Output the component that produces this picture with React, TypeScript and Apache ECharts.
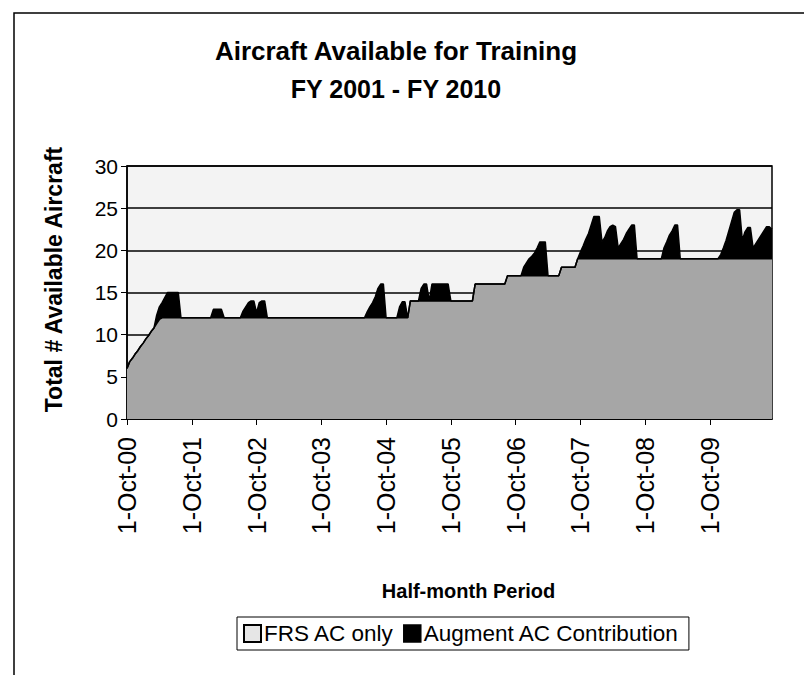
import React, { useEffect, useRef } from "react";
import * as echarts from "echarts";

// Half-month periods: Oct 2000 .. Sep 2010 (24 per fiscal year)
const monthNames = ["Oct", "Nov", "Dec", "Jan", "Feb", "Mar", "Apr", "May", "Jun", "Jul", "Aug", "Sep"];
const fiscalYears = [0, 1, 2, 3, 4, 5, 6, 7, 8, 9];

// FRS AC only (per fiscal year, 24 half-month values each)
const frsFY01 = [6, 6.8, 7.2, 7.7, 8.1, 8.6, 9, 9.5, 9.9, 10.4, 10.8, 11.3, 11.8, 12, 12, 12, 12, 12, 12, 12, 12, 12, 12, 12];
const frsFY02 = [12, 12, 12, 12, 12, 12, 12, 12, 12, 12, 12, 12, 12, 12, 12, 12, 12, 12, 12, 12, 12, 12, 12, 12];
const frsFY03 = [12, 12, 12, 12, 12, 12, 12, 12, 12, 12, 12, 12, 12, 12, 12, 12, 12, 12, 12, 12, 12, 12, 12, 12];
const frsFY04 = [12, 12, 12, 12, 12, 12, 12, 12, 12, 12, 12, 12, 12, 12, 12, 12, 12, 12, 12, 12, 12, 12, 12, 12];
const frsFY05 = [12, 12, 12, 12, 12, 12, 12, 12, 12, 14, 14, 14, 14, 14, 14, 14, 14, 14, 14, 14, 14, 14, 14, 14];
const frsFY06 = [14, 14, 14, 14, 14, 14, 14, 14, 14, 16, 16, 16, 16, 16, 16, 16, 16, 16, 16, 16, 16, 17, 17, 17];
const frsFY07 = [17, 17, 17, 17, 17, 17, 17, 17, 17, 17, 17, 17, 17, 17, 17, 17, 17, 18, 18, 18, 18, 18, 18, 19];
const frsFY08 = [19, 19, 19, 19, 19, 19, 19, 19, 19, 19, 19, 19, 19, 19, 19, 19, 19, 19, 19, 19, 19, 19, 19, 19];
const frsFY09 = [19, 19, 19, 19, 19, 19, 19, 19, 19, 19, 19, 19, 19, 19, 19, 19, 19, 19, 19, 19, 19, 19, 19, 19];
const frsFY10 = [19, 19, 19, 19, 19, 19, 19, 19, 19, 19, 19, 19, 19, 19, 19, 19, 19, 19, 19, 19, 19, 19, 19, 19];

// Augment AC Contribution (stacked on top of FRS)
const augFY01 = [0, 0, 0, 0, 0, 0, 0, 0, 0, 0, 0, 1, 1.5, 1.8, 2.4, 3, 3, 3, 3, 3, 0, 0, 0, 0];
const augFY02 = [0, 0, 0, 0, 0, 0, 0, 0, 1, 1, 1, 1, 0, 0, 0, 0, 0, 0, 0, 0.8, 1.3, 1.8, 2, 2];
const augFY03 = [0.6, 1.8, 2, 2, 0, 0, 0, 0, 0, 0, 0, 0, 0, 0, 0, 0, 0, 0, 0, 0, 0, 0, 0, 0];
const augFY04 = [0, 0, 0, 0, 0, 0, 0, 0, 0, 0, 0, 0, 0, 0, 0, 0, 0, 0.7, 1.3, 1.8, 2.5, 3.5, 4, 4];
const augFY05 = [0, 0, 0, 0, 0, 1.3, 1.9, 1.9, 0, 0, 0, 0, 0, 1.5, 2, 2, 0, 2, 2, 2, 2, 2, 2, 2];
const augFY06 = [0, 0, 0, 0, 0, 0, 0, 0, 0, 0, 0, 0, 0, 0, 0, 0, 0, 0, 0, 0, 0, 0, 0, 0];
const augFY07 = [0, 0, 0, 1, 1.5, 2, 2.3, 2.7, 3.3, 4, 4, 4, 0, 0, 0, 0, 0, 0, 0, 0, 0, 0, 0, 0];
const augFY08 = [0.8, 1.5, 2.3, 3, 4, 5, 5, 5, 2, 2.5, 3.3, 3.8, 4, 3.8, 1.3, 1.8, 2.3, 3, 3.5, 4, 4, 0, 0, 0];
const augFY09 = [0, 0, 0, 0, 0, 0, 0, 1.3, 2, 2.8, 3.3, 4, 4, 0, 0, 0, 0, 0, 0, 0, 0, 0, 0, 0];
const augFY10 = [0, 0, 0, 0, 0.5, 1.3, 2.2, 3.3, 4.4, 5.5, 5.8, 5.8, 2.2, 3.2, 3.7, 3.7, 1.3, 1.8, 2.3, 2.8, 3.3, 3.8, 3.8, 3.5];

const frsValues = [frsFY01, frsFY02, frsFY03, frsFY04, frsFY05, frsFY06, frsFY07, frsFY08, frsFY09, frsFY10].flat();
const augmentValues = [augFY01, augFY02, augFY03, augFY04, augFY05, augFY06, augFY07, augFY08, augFY09, augFY10].flat();

const yTicks = { min: 0, max: 30, interval: 5 };

function buildCategories(): string[] {
  const out: string[] = [];
  fiscalYears.forEach((fy) => {
    monthNames.forEach((m, mi) => {
      const yr = mi < 3 ? fy : fy + 1;
      const yy = String(yr % 100).padStart(2, "0");
      out.push(`1-${m}-${yy}`);
      out.push(`16-${m}-${yy}`);
    });
  });
  return out;
}
const categories = buildCategories();

const FONT = '"Liberation Sans", Arial, Helvetica, sans-serif';

export default function App() {
  const ref = useRef<HTMLDivElement>(null);
  useEffect(() => {
    if (!ref.current) return;
    const chart = echarts.init(ref.current, undefined, { renderer: "svg" });
    const showEvery = (i: number) => i % 24 === 0;
    chart.setOption({
      animation: false,
      backgroundColor: "#ffffff",
      textStyle: { fontFamily: FONT, color: "#000" },
      title: [
        {
          text: "Aircraft Available for Training",
          left: 391,
          top: 33,
          textAlign: "center",
          textStyle: { fontSize: 26, fontWeight: "bold", color: "#000", fontFamily: FONT },
        },
        {
          text: "FY 2001 - FY 2010",
          left: 391,
          top: 71,
          textAlign: "center",
          textStyle: { fontSize: 25, fontWeight: "bold", color: "#000", fontFamily: FONT },
        },
      ],
      graphic: [
        {
          type: "rect",
          z: -10,
          silent: true,
          shape: { x: 14, y: 13, width: 820, height: 720 },
          style: { fill: "none", stroke: "#000", lineWidth: 1.5 },
        },
      ],
      legend: {
        left: 237,
        top: 617,
        orient: "horizontal",
        icon: "rect",
        itemWidth: 17,
        itemHeight: 17,
        itemGap: 9,
        padding: [5, 10, 5, 6],
        borderColor: "#000",
        borderWidth: 1,
        borderRadius: 0,
        backgroundColor: "#fff",
        textStyle: { fontSize: 22.5, color: "#000", fontFamily: FONT, padding: [0, 0, 0, -2] },
        itemStyle: { borderColor: "#000", borderWidth: 1.5 },
        lineStyle: { opacity: 0, width: 0 },
        data: [
          { name: "FRS AC only", itemStyle: { color: "#e6e6e6", borderColor: "#000", borderWidth: 2 } },
          { name: "Augment AC Contribution", itemStyle: { color: "#000", borderColor: "#000" } },
        ],
      },
      grid: {
        left: 127,
        top: 166,
        width: 645,
        height: 253,
        show: true,
        backgroundColor: "#f3f3f3",
        borderColor: "#000",
        borderWidth: 1.5,
        containLabel: false,
      },
      xAxis: {
        type: "category",
        boundaryGap: false,
        data: categories,
        axisLine: { show: true, lineStyle: { color: "#000", width: 1.5 } },
        axisTick: { show: true, interval: showEvery, length: 6, inside: false, lineStyle: { color: "#000", width: 1 } },
        axisLabel: { interval: showEvery, rotate: 90, fontSize: 25, color: "#000", margin: 18, fontFamily: FONT },
        splitLine: { show: false },
        name: "Half-month Period",
        nameLocation: "middle",
        nameGap: 162,
        nameTextStyle: { fontSize: 20, fontWeight: "bold", color: "#000", fontFamily: FONT, padding: [0, 0, 0, 38] },
      },
      yAxis: {
        type: "value",
        min: yTicks.min,
        max: yTicks.max,
        interval: yTicks.interval,
        axisLine: { show: true, lineStyle: { color: "#000", width: 1.5 } },
        axisTick: { show: true, length: 6, lineStyle: { color: "#000", width: 1 } },
        axisLabel: { fontSize: 21, color: "#000", margin: 9, fontFamily: FONT },
        splitLine: { show: true, lineStyle: { color: "#000", width: 1.5 } },
        name: "Total # Available Aircraft",
        nameLocation: "middle",
        nameGap: 62,
        nameTextStyle: { fontSize: 23, fontWeight: "bold", color: "#000", fontFamily: FONT, padding: [0, 0, 0, 26] },
      },
      series: [
        {
          name: "FRS AC only",
          type: "line",
          stack: "total",
          data: frsValues,
          symbol: "none",
          showSymbol: false,
          lineStyle: { color: "#000", width: 1.5 },
          itemStyle: { color: "#a6a6a6" },
          areaStyle: { color: "#a6a6a6", opacity: 1 },
          z: 2,
        },
        {
          name: "Augment AC Contribution",
          type: "line",
          stack: "total",
          data: augmentValues,
          symbol: "none",
          showSymbol: false,
          lineStyle: { color: "#000", width: 1.5 },
          itemStyle: { color: "#000" },
          areaStyle: { color: "#000", opacity: 1 },
          z: 3,
        },
      ],
    });
    return () => chart.dispose();
  }, []);
  return (
    <div
      ref={ref}
      style={{ position: "fixed", left: 0, top: 0, width: 804, height: 675, background: "#fff" }}
    />
  );
}
